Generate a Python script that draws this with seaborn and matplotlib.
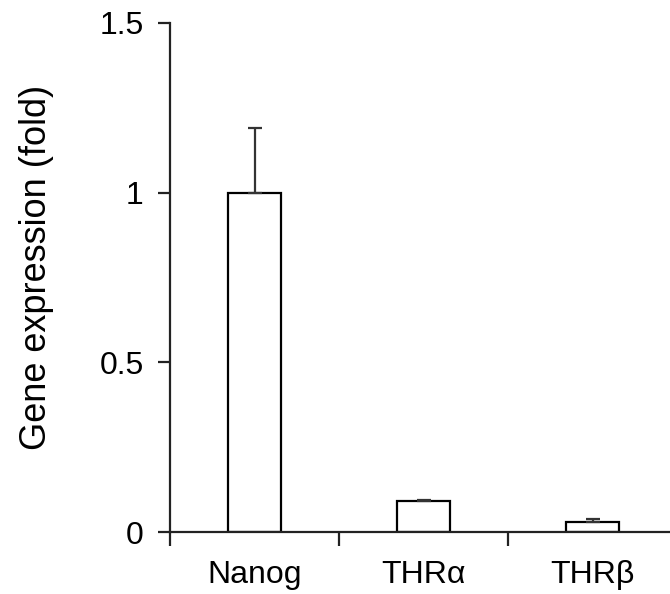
import numpy as np
import pandas as pd
import seaborn as sns
import matplotlib.pyplot as plt

# values
genes = ["Nanog", "THR\u03b1", "THR\u03b2"]
expression = [1.0, 0.09, 0.03]
sem = [0.19, 0.005, 0.007]

sns.set_style("ticks")
plt.rcParams['font.family'] = ['Liberation Sans', 'DejaVu Sans']
plt.rcParams['text.color'] = 'black'
plt.rcParams['axes.labelcolor'] = 'black'
plt.rcParams['xtick.color'] = '#222222'
plt.rcParams['ytick.color'] = '#222222'
plt.rcParams['xtick.labelcolor'] = 'black'
plt.rcParams['ytick.labelcolor'] = 'black'

df = pd.DataFrame({"gene": genes, "fold": expression})

fig = plt.figure(figsize=(6.7, 5.94), dpi=100)
ax = fig.add_axes([170 / 670, 62 / 594, 507 / 670, 509 / 594])

sns.barplot(data=df, x="gene", y="fold", color="white", edgecolor="black",
            linewidth=1.6, width=0.31, errorbar=None, ax=ax)
# upper error bars only
ax.errorbar(np.arange(len(genes)), expression, yerr=[np.zeros(len(sem)), sem],
            fmt="none", ecolor="#333333", elinewidth=1.6, capsize=5, capthick=1.6)

ax.set_xlim(-0.5, 2.5)
ax.set_ylim(0, 1.5)
ax.set_yticks([0, 0.5, 1, 1.5])
ax.set_yticklabels(["0", "0.5", "1", "1.5"])
ax.set_xticks(np.arange(len(genes)))
ax.set_xticklabels(genes)
ax.set_xticks([-0.5, 0.5, 1.5], minor=True)
ax.tick_params(axis="x", which="major", length=0, pad=20, labelsize=23)
ax.tick_params(axis="x", which="minor", length=10, width=1.6, direction="out")
ax.tick_params(axis="y", length=9, width=1.6, direction="out", labelsize=23, pad=10)

ax.set_xlabel("")
ax.set_ylabel("Gene expression (fold)", fontsize=26)
ax.yaxis.set_label_coords(-0.228, 0.52)
sns.despine(ax=ax)
for s in ["left", "bottom"]:
    ax.spines[s].set_linewidth(1.6)
    ax.spines[s].set_color("#222222")

plt.savefig("out.png", dpi=100)
